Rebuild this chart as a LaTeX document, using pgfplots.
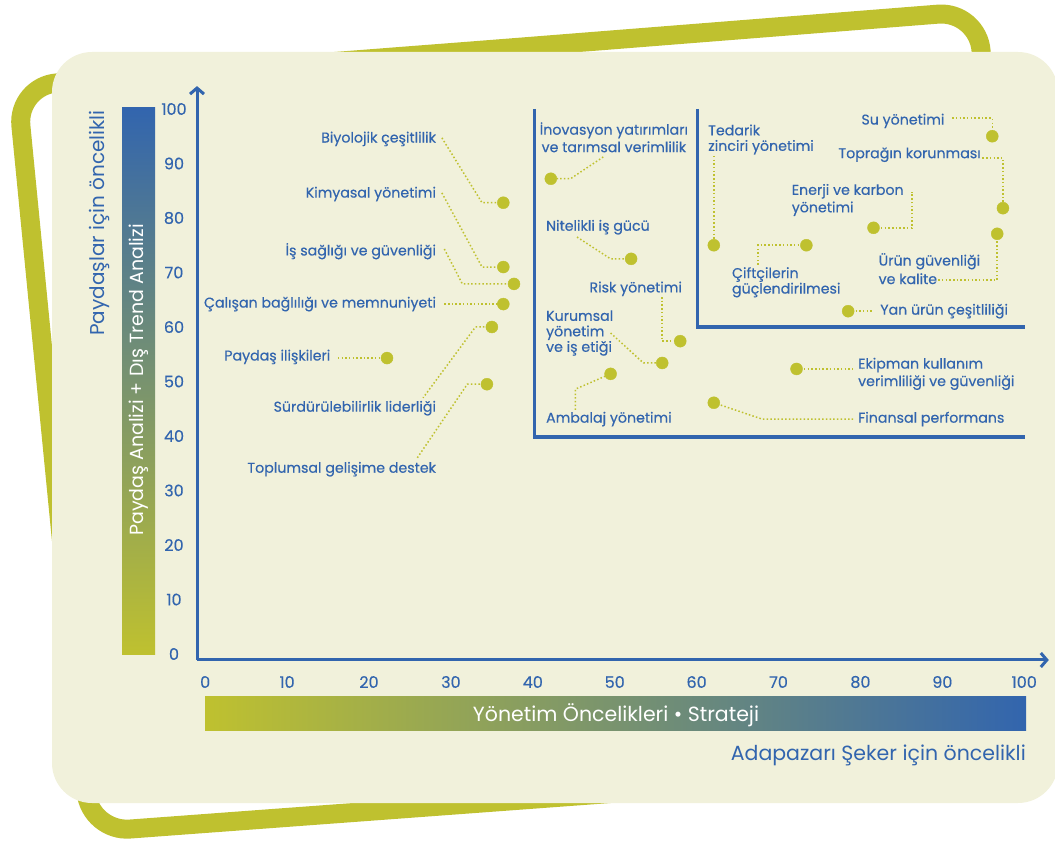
\documentclass[border=0pt]{standalone}
\usepackage{fontspec}
\setmainfont{Poppins}
\newfontfamily\medfont{Poppins}[FakeBold=0.35]
\usepackage{pgfplots}
\pgfplotsset{compat=1.18}
\usetikzlibrary{arrows.meta}

\definecolor{sgolive}{RGB}{191,193,47}
\definecolor{sgcream}{RGB}{241,241,219}
\definecolor{sgblue}{RGB}{50,101,174}

\begin{document}
\begin{tikzpicture}[
    leader/.style={draw=sgolive, line width=1.5pt, dash pattern=on 1.5pt off 2.2pt},
    lbl/.style={text=sgblue, inner sep=0, font=\medfont\fontsize{14.2}{15.5}\selectfont},
  ]
  % page = 1055 x 841 px, 1 px = 1 pt
  \useasboundingbox (0pt,0pt) rectangle (1055pt,841pt);

  % decorative frame and panel
  \draw[sgolive, line width=19pt, rounded corners=40pt]
    (497pt,792pt) -- (978pt,830pt) -- (1036pt,79pt) -- (90pt,9pt) -- (17pt,755pt) -- cycle;
  \fill[sgcream, rounded corners=40pt] (52pt,38pt) rectangle (1058pt,789pt);

  % gradient bars and side titles
  \shade[bottom color=sgolive, top color=sgblue] (122pt,186pt) rectangle (155pt,733pt);
  \node[rotate=90, text=white, inner sep=0, font=\fontsize{19}{22}\selectfont]
    at (138.5pt,461pt) {Paydaş Analizi + Dış Trend Analizi};
  \node[rotate=90, text=sgblue, inner sep=0, font=\fontsize{20}{23}\selectfont]
    at (99pt,618pt) {Paydaşlar için öncelikli};
  \shade[left color=sgolive, right color=sgblue] (205pt,110pt) rectangle (1026pt,144pt);
  \node[text=white, inner sep=0, font=\fontsize{20.5}{23}\selectfont]
    at (616pt,126pt) {Yönetim Öncelikleri • Strateji};
  \node[anchor=east, text=sgblue, inner sep=0, font=\fontsize{20.5}{23}\selectfont]
    at (1026pt,86pt) {Adapazarı Şeker için öncelikli};

  \begin{axis}[
    at={(197pt,181pt)}, anchor=south west,
    scale only axis, width=851.8pt, height=573.9pt,
    xmin=-1, xmax=103, ymin=-1.1, ymax=104.2,
    axis lines=left,
    axis line style={draw=sgblue, line width=3pt, -{Straight Barb[length=6pt,width=14pt]}},
    xtick={0,10,...,100}, ytick={0,10,...,100},
    major tick length=0pt,
    /pgf/number format/assume math mode=true,
    ticklabel style={text=sgblue, font=\medfont\fontsize{16}{18}\selectfont},
    xticklabel style={anchor=center, yshift=-22pt},
    yticklabel style={anchor=center, xshift=-23pt},
    clip=false,
  ]

  % priority boxes
  \addplot[draw=sgblue, line width=3.5pt, no marks] coordinates {(40.2,100) (40.2,39.8) (100.1,39.8)};
  \addplot[draw=sgblue, line width=3.5pt, no marks] coordinates {(60.1,100) (60.1,60.0) (100.1,60.0)};

  % leader lines
  \addplot[leader, no marks] coordinates {(28.9,94.7) (33.8,82.8) (36.4,82.8)};
  \addplot[leader, no marks] coordinates {(28.9,84.6) (33.8,71.0) (36.4,71.0)};
  \addplot[leader, no marks] coordinates {(29.2,74.3) (31.4,67.9) (37.7,67.9)};
  \addplot[leader, no marks] coordinates {(29.2,64.2) (36.4,64.2)};
  \addplot[leader, no marks] coordinates {(35.0,60.0) (33.0,60.0) (26.6,47.0)};
  \addplot[leader, no marks] coordinates {(16.2,54.3) (22.2,54.3)};
  \addplot[leader, no marks] coordinates {(25.9,36.0) (32.0,49.5) (34.4,49.5)};
  \addplot[leader, no marks] coordinates {(48.6,91.2) (44.6,87.2) (42.2,87.2)};
  \addplot[leader, no marks] coordinates {(45.4,76.5) (49.5,72.5) (52.0,72.5)};
  \addplot[leader, no marks] coordinates {(55.8,65.5) (55.8,57.4) (58.0,57.4)};
  \addplot[leader, no marks] coordinates {(49.5,58.9) (53.5,53.4) (55.8,53.4)};
  \addplot[leader, no marks] coordinates {(45.2,44.8) (45.2,48.6) (49.5,51.4)};
  \addplot[leader, no marks] coordinates {(62.1,91.4) (62.1,75.0)};
  \addplot[leader, no marks] coordinates {(67.5,71.4) (67.5,75.0) (73.4,75.0)};
  \addplot[leader, no marks] coordinates {(81.6,78.2) (86.3,78.2) (86.3,84.8)};
  \addplot[leader, no marks] coordinates {(91.2,98.3) (96.1,98.3) (96.1,95.0)};
  \addplot[leader, no marks] coordinates {(94.9,91.0) (97.4,91.0) (97.4,81.8)};
  \addplot[leader, no marks] coordinates {(89.5,68.6) (96.7,68.6) (96.7,77.1)};
  \addplot[leader, no marks] coordinates {(78.5,62.9) (81.6,62.9)};
  \addplot[leader, no marks] coordinates {(72.2,52.3) (79.0,52.3)};
  \addplot[leader, no marks] coordinates {(62.1,46.1) (68.0,43.1) (79.1,43.1)};

  % topics
  \addplot[only marks, mark=*, mark size=6pt, color=sgolive, mark options={draw=sgolive, fill=sgolive}]
    coordinates {
      (36.4,82.8) (36.4,71.0) (37.7,67.9) (36.4,64.2) (35.0,60.0) (22.2,54.3) (34.4,49.5)
      (42.2,87.2) (52.0,72.5) (58.0,57.4) (55.8,53.4) (49.5,51.4)
      (62.1,75.0) (73.4,75.0) (81.6,78.2) (96.1,95.0) (97.4,81.8) (96.7,77.1)
      (78.5,62.9) (72.2,52.3) (62.1,46.1)
    };

  % labels
  \node[lbl, anchor=east] at (axis cs:28.2,94.5) {Biyolojik çeşitlilik};
  \node[lbl, anchor=east] at (axis cs:28.2,84.4) {Kimyasal yönetimi};
  \node[lbl, anchor=east] at (axis cs:28.2,73.9) {İş sağlığı ve güvenliği};
  \node[lbl, anchor=east] at (axis cs:28.2,64.2) {Çalışan bağlılığı ve memnuniyeti};
  \node[lbl, anchor=east] at (axis cs:15.3,54.5) {Paydaş ilişkileri};
  \node[lbl, anchor=east] at (axis cs:28.2,45.1) {Sürdürülebilirlik liderliği};
  \node[lbl, anchor=east] at (axis cs:28.2,33.9) {Toplumsal gelişime destek};
  \node[lbl, align=center] at (axis cs:49.9,94.8) {İnovasyon yatırımları\\[2pt]ve tarımsal verimlilik};
  \node[lbl, anchor=west] at (axis cs:41.6,78.3) {Nitelikli iş gücü};
  \node[lbl, anchor=west] at (axis cs:46.9,67.0) {Risk yönetimi};
  \node[lbl, anchor=west, align=left] at (axis cs:41.6,58.9) {Kurumsal\\yönetim\\ve iş etiği};
  \node[lbl, anchor=west] at (axis cs:41.6,43.1) {Ambalaj yönetimi};
  \node[lbl, anchor=west, align=left] at (axis cs:61.4,94.4) {Tedarik\\zinciri yönetimi};
  \node[lbl, anchor=west, align=left] at (axis cs:64.3,68.2) {Çiftçilerin\\güçlendirilmesi};
  \node[lbl, anchor=west, align=left] at (axis cs:71.6,83.3) {Enerji ve karbon\\[2pt]yönetimi};
  \node[lbl, anchor=west] at (axis cs:80.1,97.8) {Su yönetimi};
  \node[lbl, anchor=west] at (axis cs:77.3,91.6) {Toprağın korunması};
  \node[lbl, anchor=west, align=left] at (axis cs:82.2,70.7) {Ürün güvenliği\\[3pt]ve kalite};
  \node[lbl, anchor=west] at (axis cs:82.4,62.9) {Yan ürün çeşitliliği};
  \node[lbl, anchor=west, align=left] at (axis cs:79.7,51.4) {Ekipman kullanım\\[2pt]verimliliği ve güvenliği};
  \node[lbl, anchor=west] at (axis cs:79.7,43.1) {Finansal performans};
  \end{axis}
\end{tikzpicture}
\end{document}
